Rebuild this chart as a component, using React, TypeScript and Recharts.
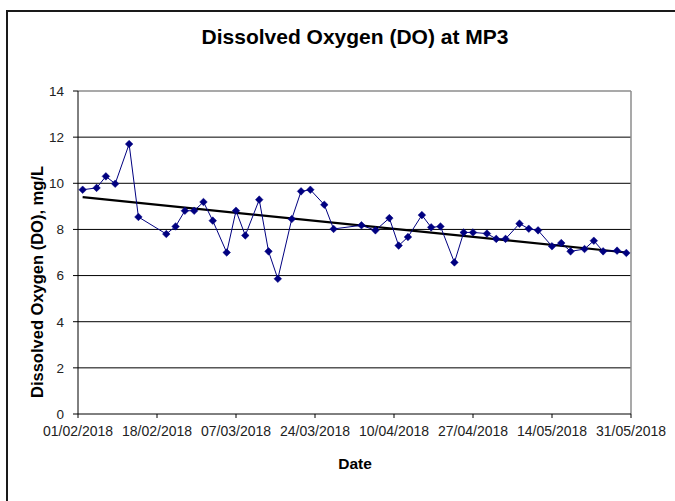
import React from "react";
import {
  LineChart,
  Line,
  XAxis,
  YAxis,
  CartesianGrid,
  ReferenceLine,
} from "recharts";

const sampleDates = [
  "02/02/2018", "05/02/2018", "07/02/2018", "09/02/2018", "12/02/2018",
  "14/02/2018", "20/02/2018", "22/02/2018", "24/02/2018", "26/02/2018",
  "28/02/2018", "02/03/2018", "05/03/2018", "07/03/2018", "09/03/2018",
  "12/03/2018", "14/03/2018", "16/03/2018", "19/03/2018", "21/03/2018",
  "23/03/2018", "26/03/2018", "28/03/2018", "03/04/2018", "06/04/2018",
  "09/04/2018", "11/04/2018", "13/04/2018", "16/04/2018", "18/04/2018",
  "20/04/2018", "23/04/2018", "25/04/2018", "27/04/2018", "30/04/2018",
  "02/05/2018", "04/05/2018", "07/05/2018", "09/05/2018", "11/05/2018",
  "14/05/2018", "16/05/2018", "18/05/2018", "21/05/2018", "23/05/2018",
  "25/05/2018", "28/05/2018", "30/05/2018",
];

const doValues = [
  9.72, 9.8, 10.3, 9.98, 11.7, 8.54, 7.8, 8.13, 8.81, 8.81,
  9.19, 8.38, 7.0, 8.81, 7.74, 9.29, 7.05, 5.86, 8.45, 9.65,
  9.72, 9.07, 8.02, 8.18, 7.96, 8.49, 7.3, 7.67, 8.62, 8.09,
  8.13, 6.57, 7.87, 7.87, 7.82, 7.59, 7.59, 8.25, 8.03, 7.96,
  7.27, 7.41, 7.05, 7.15, 7.51, 7.05, 7.08, 6.98,
];

// linear trend line, end points
const trendDates = ["02/02/2018", "30/05/2018"];
const trendValues = [9.4, 7.0];

const xTickDates = [
  "01/02/2018", "18/02/2018", "07/03/2018", "24/03/2018",
  "10/04/2018", "27/04/2018", "14/05/2018", "31/05/2018",
];
const yTicks = [0, 2, 4, 6, 8, 10, 12, 14];
const gridValues = [2, 4, 6, 8, 10, 12];

const START = Date.UTC(2018, 1, 1);
const DAY = 86400000;

const toDay = (s: string) => {
  const [d, m, y] = s.split("/").map(Number);
  return Math.round((Date.UTC(y, m - 1, d) - START) / DAY);
};
const fromDay = (n: number) => {
  const dt = new Date(START + n * DAY);
  const dd = String(dt.getUTCDate()).padStart(2, "0");
  const mm = String(dt.getUTCMonth() + 1).padStart(2, "0");
  return `${dd}/${mm}/${dt.getUTCFullYear()}`;
};

const data = sampleDates.map((d, i) => ({ day: toDay(d), value: doValues[i] }));
const xTicks = xTickDates.map(toDay);

const FONT = '"Liberation Sans", Arial, sans-serif';
const NAVY = "#000080";

const Diamond = (props: any) => {
  const { cx, cy } = props;
  if (cx == null || cy == null) return null;
  const r = 3.8;
  return (
    <polygon
      points={`${cx},${cy - r} ${cx + r},${cy} ${cx},${cy + r} ${cx - r},${cy}`}
      fill={NAVY}
      stroke={NAVY}
      strokeWidth={0.5}
    />
  );
};

export default function App() {
  return (
    <div
      style={{
        position: "absolute",
        left: 0,
        top: 0,
        width: 675,
        height: 501,
        background: "#fff",
        overflow: "hidden",
        fontFamily: FONT,
      }}
    >
      <div
        style={{
          position: "absolute",
          left: 6,
          top: 10,
          width: 669,
          height: 491,
          borderTop: "2px solid #1a1a1a",
          borderLeft: "2px solid #1a1a1a",
          boxSizing: "border-box",
        }}
      />
      <div
        style={{
          position: "absolute",
          left: 0,
          width: 710,
          top: 25,
          textAlign: "center",
          fontSize: 21,
          fontWeight: "bold",
          color: "#000",
        }}
      >
        Dissolved Oxygen (DO) at MP3
      </div>
      <div
        style={{
          position: "absolute",
          left: 0,
          width: 710,
          top: 455,
          textAlign: "center",
          fontSize: 15.5,
          fontWeight: "bold",
          color: "#000",
        }}
      >
        Date
      </div>
      <div
        style={{
          position: "absolute",
          left: 37,
          top: 282,
          transform: "translate(-50%, -50%) rotate(-90deg)",
          whiteSpace: "nowrap",
          fontSize: 16.5,
          fontWeight: "bold",
          color: "#000",
        }}
      >
        Dissolved Oxygen (DO), mg/L
      </div>
      <LineChart
        width={675}
        height={501}
        data={data}
        margin={{ top: 91, right: 44, bottom: 57, left: 18 }}
        style={{ position: "absolute", left: 0, top: 0 }}
      >
        <CartesianGrid
          vertical={false}
          horizontalValues={gridValues}
          stroke="#000"
          strokeWidth={1}
        />
        <ReferenceLine y={14} stroke="#8c8c8c" strokeWidth={1.5} />
        <ReferenceLine x={119} stroke="#8c8c8c" strokeWidth={1.5} />
        <XAxis
          dataKey="day"
          type="number"
          domain={[0, 119]}
          ticks={xTicks}
          tickFormatter={fromDay}
          interval={0}
          stroke="#000"
          tickSize={4}
          tickMargin={8}
          tick={{ fill: "#222", fontSize: 14, fontFamily: FONT }}
          height={30}
        />
        <YAxis
          type="number"
          domain={[0, 14]}
          ticks={yTicks}
          interval={0}
          stroke="#000"
          width={60}
          tickSize={5}
          tickMargin={9}
          tick={{ fill: "#222", fontSize: 13.5, fontFamily: FONT }}
        />
        <ReferenceLine
          segment={[
            { x: toDay(trendDates[0]), y: trendValues[0] },
            { x: toDay(trendDates[1]), y: trendValues[1] },
          ]}
          stroke="#000"
          strokeWidth={2.2}
        />
        <Line
          type="linear"
          dataKey="value"
          stroke={NAVY}
          strokeWidth={1}
          dot={<Diamond />}
          activeDot={false}
          isAnimationActive={false}
        />
      </LineChart>
    </div>
  );
}
